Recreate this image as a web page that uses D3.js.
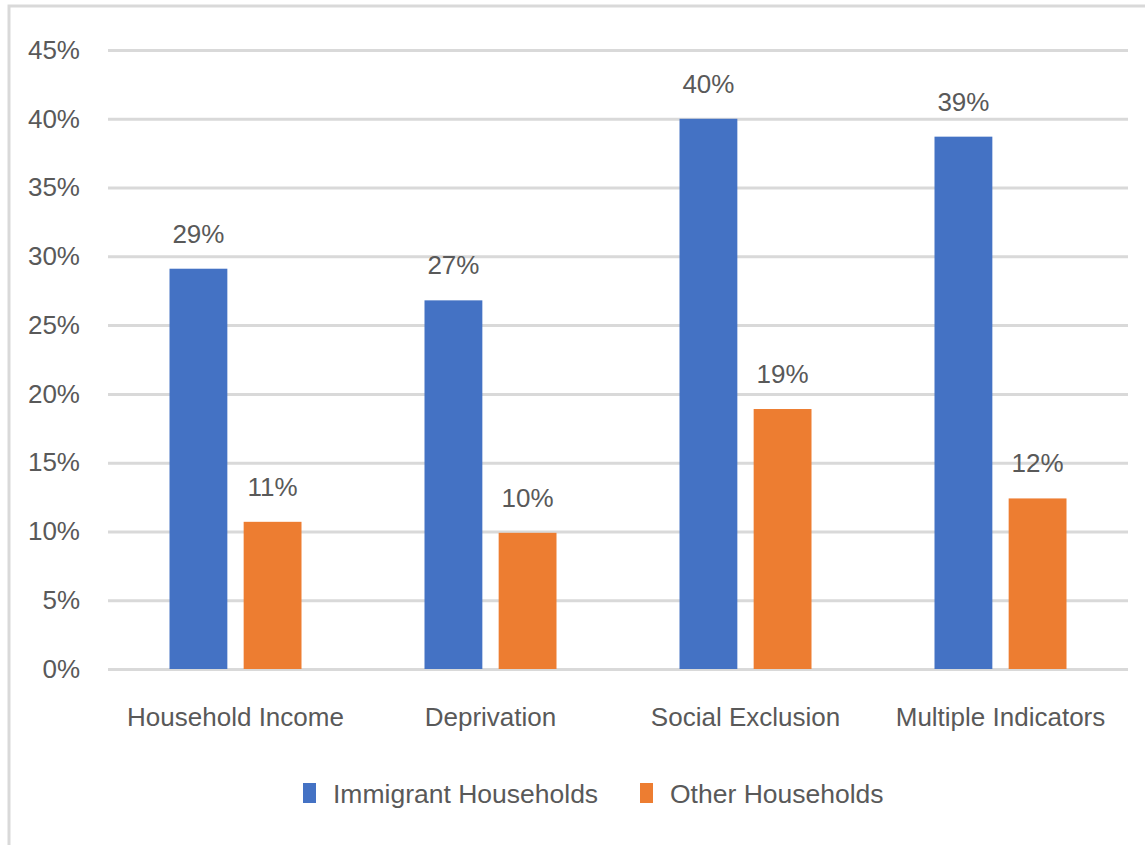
<!DOCTYPE html>
<html>
<head>
<meta charset="utf-8">
<script src="https://cdn.jsdelivr.net/npm/d3@7"></script>
<style>
    body { margin: 0; background: #fff; }
    text { font-family: 'Liberation Sans', Arial, sans-serif; fill: #595959; }
</style>
</head>
<body>
<div id="chart"></div>
<script>
// chart data
const categories = ['Household Income', 'Deprivation', 'Social Exclusion', 'Multiple Indicators']
const seriesNames = ['Immigrant Households', 'Other Households']
const immigrantValues = [0.291, 0.268, 0.400, 0.387]
const otherValues = [0.107, 0.099, 0.189, 0.124]
const labelValues = [['29%', '27%', '40%', '39%'], ['11%', '10%', '19%', '12%']]
const yTicks = [0, 0.05, 0.1, 0.15, 0.2, 0.25, 0.3, 0.35, 0.4, 0.45]
const colors = ['#4472C4', '#ED7D31']

const width = 1145
const height = 845
const margin = { top: 50, right: 17, bottom: 176, left: 108 }

const svg = d3.select('#chart').append('svg')
    .attr('width', width)
    .attr('height', height)

// outer border of the chart area
svg.append('rect')
    .attr('x', 9)
    .attr('y', 6)
    .attr('width', width + 20)
    .attr('height', height + 20)
    .attr('fill', 'none')
    .attr('stroke', '#d9d9d9')
    .attr('stroke-width', 3)

const x0 = d3.scaleBand()
    .domain(categories)
    .range([margin.left, width - margin.right])
    .padding(0)

const groupWidth = 132
const x1 = d3.scaleBand()
    .domain(seriesNames)
    .range([0, groupWidth])
    .paddingInner(0.22)

const y = d3.scaleLinear()
    .domain([0, 0.45])
    .range([height - margin.bottom, margin.top])

// gridlines + tick labels
const yAxis = d3.axisLeft(y)
    .tickValues(yTicks)
    .tickFormat(d => Math.round(d * 100) + '%')
    .tickSize(-(width - margin.left - margin.right))
    .tickPadding(28)

svg.append('g')
    .attr('class', 'y-axis')
    .attr('transform', `translate(${margin.left},0)`)
    .call(yAxis)
    .call(g => g.select('.domain').remove())
    .call(g => g.selectAll('.tick line').attr('stroke', '#d9d9d9').attr('stroke-width', 3))
    .call(g => g.selectAll('.tick text')
        .style('font-size', '26px')
        .attr('fill', '#595959')
        .style('font-family', null))

const rows = categories.map((c, i) => ({
    category: c,
    values: [
        { series: seriesNames[0], value: immigrantValues[i], label: labelValues[0][i] },
        { series: seriesNames[1], value: otherValues[i], label: labelValues[1][i] }
    ]
}))

const groups = svg.append('g')
    .selectAll('g')
    .data(rows)
    .join('g')
    .attr('transform', d => `translate(${x0(d.category) + (x0.bandwidth() - groupWidth) / 2},0)`)

groups.selectAll('rect')
    .data(d => d.values)
    .join('rect')
    .attr('x', d => x1(d.series))
    .attr('y', d => y(d.value))
    .attr('width', x1.bandwidth())
    .attr('height', d => y(0) - y(d.value))
    .attr('fill', (d, i) => colors[i])

// value labels
groups.selectAll('.value-label')
    .data(d => d.values)
    .join('text')
    .attr('class', 'value-label')
    .attr('x', d => x1(d.series) + x1.bandwidth() / 2)
    .attr('y', d => y(d.value) - 26)
    .attr('text-anchor', 'middle')
    .style('font-size', '26px')
    .text(d => d.label)

// category labels
svg.append('g')
    .selectAll('text')
    .data(categories)
    .join('text')
    .attr('x', d => x0(d) + x0.bandwidth() / 2)
    .attr('y', 726)
    .attr('text-anchor', 'middle')
    .style('font-size', '26px')
    .text(d => d)

// legend
const legendX = [303, 640]
const legend = svg.append('g')
    .selectAll('g')
    .data(seriesNames)
    .join('g')
    .attr('transform', (d, i) => `translate(${legendX[i]},783)`)

legend.append('rect')
    .attr('width', 13)
    .attr('height', 20)
    .attr('fill', (d, i) => colors[i])

legend.append('text')
    .attr('x', 30)
    .attr('y', 20)
    .style('font-size', '26.5px')
    .text(d => d)
</script>
</body>
</html>
